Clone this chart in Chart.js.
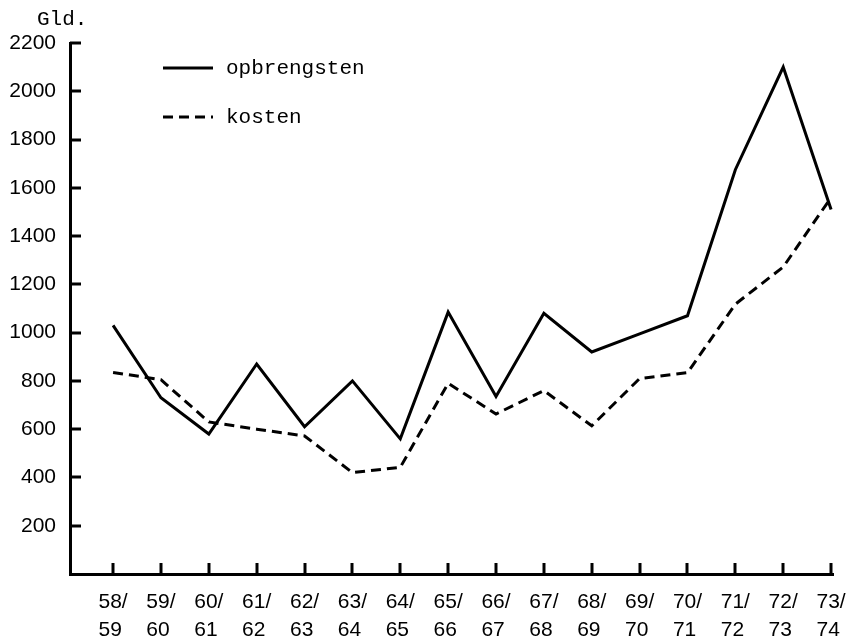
<!DOCTYPE html>
<html>
<head>
<meta charset="utf-8">
<script src="https://cdn.jsdelivr.net/npm/chart.js@4.4.0/dist/chart.umd.min.js"></script>
<style>
html, body { margin: 0; padding: 0; background: #fff; }
</style>
</head>
<body>
<canvas id="myChart" width="853" height="643"></canvas>
<script>
// boekjaren (twee regels onder de as)
var jaarBoven = ['58/','59/','60/','61/','62/','63/','64/','65/','66/','67/','68/','69/','70/','71/','72/','73/'];
var jaarOnder = ['59','60','61','62','63','64','65','66','67','68','69','70','71','72','73','74'];

// Gld.
var opbrengsten = [1030, 730, 580, 870, 610, 800, 560, 1085, 735, 1080, 920, 995, 1070, 1675, 2100, 1510];
var kosten      = [835, 805, 630, 600, 572, 420, 442, 790, 663, 760, 614, 810, 834, 1118, 1272, 1560];

var legendaNamen = ['opbrengsten', 'kosten'];

var getalFont = '"Liberation Sans", Arial, sans-serif';
var typFont = '"Liberation Mono", "Courier New", monospace';

// korte streepjes naar binnen, legenda en "Gld."
var extraTekening = {
  id: 'extraTekening',
  afterDraw: function(chart) {
    var ctx = chart.ctx, ca = chart.chartArea;
    var xs = chart.scales.x, ys = chart.scales.y;
    ctx.save();
    ctx.strokeStyle = '#000';
    ctx.lineWidth = 3;
    ys.ticks.forEach(function(t) {
      if (t.value <= 0) return;
      var y = Math.round(ys.getPixelForValue(t.value));
      ctx.beginPath();
      ctx.moveTo(ca.left, y);
      ctx.lineTo(ca.left + 11, y);
      ctx.stroke();
    });
    xs.ticks.forEach(function(t) {
      var x = Math.round(xs.getPixelForValue(t.value));
      ctx.beginPath();
      ctx.moveTo(x, ca.bottom);
      ctx.lineTo(x, ca.bottom - 11);
      ctx.stroke();
    });

    // legenda
    ctx.font = '21px ' + typFont;
    ctx.fillStyle = '#000';
    ctx.textBaseline = 'middle';
    chart.data.datasets.forEach(function(ds, i) {
      var y = 68 + i * 49;
      ctx.lineWidth = 3;
      ctx.setLineDash(ds.borderDash || []);
      ctx.beginPath();
      ctx.moveTo(163, y);
      ctx.lineTo(213, y);
      ctx.stroke();
      ctx.setLineDash([]);
      ctx.fillText(legendaNamen[i], 226, y);
    });

    ctx.fillText('Gld.', 37, 19);
    ctx.restore();
  }
};

var ctx = document.getElementById('myChart').getContext('2d');
var chart = new Chart(ctx, {
  type: 'line',
  data: {
    datasets: [{
      label: legendaNamen[0],
      data: opbrengsten.map(function(v, i) { return { x: i, y: v }; }),
      borderColor: '#000',
      borderWidth: 3,
      pointRadius: 0,
      tension: 0
    }, {
      label: legendaNamen[1],
      data: kosten.map(function(v, i) { return { x: i, y: v }; }),
      borderColor: '#000',
      borderWidth: 3,
      borderDash: [10, 6],
      pointRadius: 0,
      tension: 0
    }]
  },
  options: {
    responsive: false,
    animation: false,
    layout: { padding: { top: 43, right: 20, left: 0, bottom: 0 } },
    plugins: {
      legend: { display: false },
      tooltip: { enabled: false }
    },
    scales: {
      x: {
        type: 'linear',
        min: -0.9,
        max: 15.04,
        afterBuildTicks: function(scale) {
          scale.ticks = jaarBoven.map(function(_, i) { return { value: i }; });
        },
        afterFit: function(scale) {
          scale.height = 69;
          scale.paddingLeft = 0;
          scale.paddingRight = 0;
        },
        grid: { display: false, drawTicks: false },
        border: { display: true, color: '#000', width: 3 },
        ticks: {
          color: '#000',
          padding: 15,
          maxRotation: 0,
          autoSkip: false,
          font: { family: getalFont, size: 21, lineHeight: 1.3 },
          callback: function(v) {
            var i = Math.round(v);
            return [jaarBoven[i], jaarOnder[i] + ' '];
          }
        }
      },
      y: {
        min: 0,
        max: 2200,
        afterFit: function(scale) {
          scale.width = 70;
          scale.paddingTop = 0;
          scale.paddingBottom = 0;
        },
        grid: { display: false, drawTicks: false },
        border: { display: true, color: '#000', width: 3 },
        ticks: {
          stepSize: 200,
          color: '#000',
          padding: 14,
          font: { family: getalFont, size: 21 },
          callback: function(v) { return v === 0 ? '' : v; }
        }
      }
    }
  },
  plugins: [extraTekening]
});
</script>
</body>
</html>
